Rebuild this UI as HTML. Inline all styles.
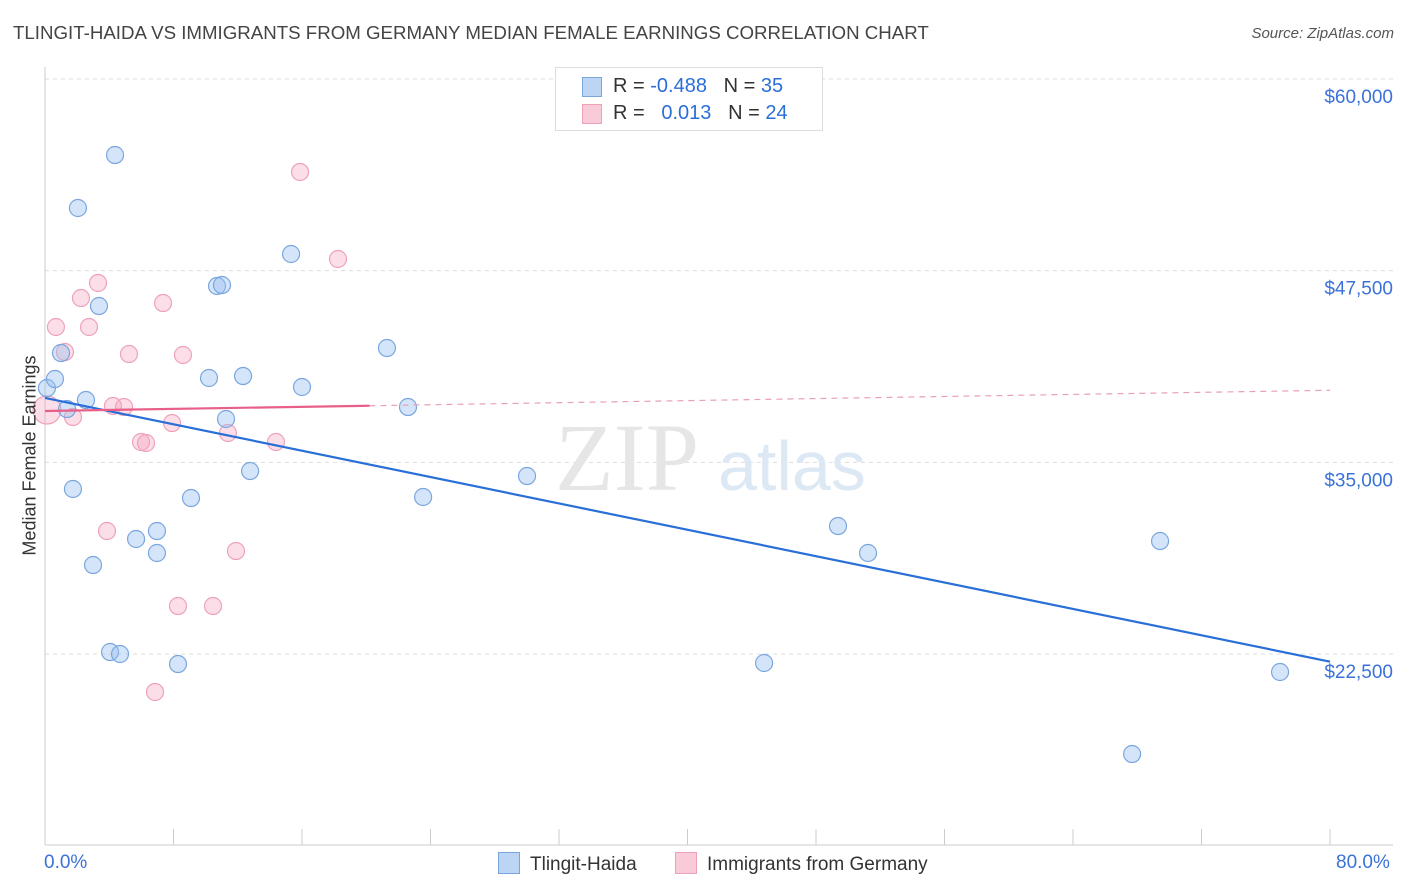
<!DOCTYPE html>
<html><head><meta charset="utf-8">
<style>
body{margin:0;background:#fff;font-family:"Liberation Sans",sans-serif;}
#wrap{position:relative;width:1406px;height:892px;overflow:hidden;}
.t{position:absolute;white-space:nowrap;}
</style></head>
<body>
<div id="wrap">
<div class="t" style="left:13px;top:22px;font-size:18.7px;color:#444;">TLINGIT-HAIDA VS IMMIGRANTS FROM GERMANY MEDIAN FEMALE EARNINGS CORRELATION CHART</div>
<div class="t" style="right:12px;top:25px;font-size:15px;color:#555;font-style:italic;">Source: ZipAtlas.com</div>
<svg id="chart" width="1406" height="892" style="position:absolute;left:0;top:0"></svg>
</div>
<script>
const blueX=[0.12,0.62,1.0,1.37,2.05,2.55,1.74,2.99,3.36,4.05,4.36,4.67,5.67,6.97,6.97,8.28,9.09,10.21,10.71,11.02,11.27,12.33,12.77,15.32,16.0,21.29,22.6,23.54,30.01,44.77,49.37,51.24,67.68,69.42,76.89];
const blueY=[39847,40434,42130,38478,51587,39065,33261,28304,45195,22630,55043,22500,30000,30521,29087,21846,32673,40500,46500,46565,37826,40630,34434,48587,39913,42456,38608,32739,34108,21913,30847,29087,15978,29869,21326];
const pinkX=[0.12,0.68,1.24,1.74,2.24,2.74,3.3,3.86,4.23,4.92,5.23,5.98,6.29,6.85,7.35,7.91,8.28,8.59,10.46,11.39,11.89,14.38,15.88,18.24];
const pinkY=[38413,43826,42195,37956,45717,43826,46696,30521,38674,38608,42065,36326,36261,20022,45391,37565,25630,42000,25630,36913,29217,36326,53935,48261];
const blueTrend=[39200,22000];
const pinkTrend=[38350,39700];
const yTicks=[60000,47500,35000,22500];
const yTickLabels=["$60,000","$47,500","$35,000","$22,500"];
const xTicks=[0,8,16,24,32,40,48,56,64,72,80];

const NS="http://www.w3.org/2000/svg";
const svg=document.getElementById('chart');
const X=v=>45+v/80*1285;
const Y=v=>79+(60000-v)/37500*575;
function mk(tag,attrs){const e=document.createElementNS(NS,tag);for(const k in attrs)e.setAttribute(k,attrs[k]);svg.appendChild(e);return e;}

yTicks.forEach((t,i)=>{
  const g=mk('line',{x1:45,x2:1393,y1:Y(t),y2:Y(t),stroke:'#ddd','stroke-dasharray':'4,4'});
  
  
  const tx=mk('text',{x:1393,y:Y(t)+24,'text-anchor':'end','font-size':19,fill:'#3a72d8','font-family':'Liberation Sans, sans-serif'});
  tx.textContent=yTickLabels[i];
  
  
});
const ax=mk('line',{x1:45,x2:1393,y1:845,y2:845,stroke:'#ccc'});


const ay=mk('line',{x1:45,x2:45,y1:67,y2:845,stroke:'#ccc'});


xTicks.forEach(t=>{
  const l=mk('line',{x1:X(t),x2:X(t),y1:829,y2:845,stroke:'#ccc'});
  
  
});
const wm=mk('text',{x:555,y:490,'font-size':96,fill:'#e6e6e6','font-family':'Liberation Serif, serif'});
wm.textContent='ZIP';


const wm2=mk('text',{x:718,y:490,'font-size':70,fill:'#dde8f5','font-family':'Liberation Sans, sans-serif'});
wm2.textContent='atlas';



pinkX.forEach((x,i)=>{
  const r=i===0?14:8.5;
  const c=mk('circle',{cx:X(x),cy:Y(pinkY[i]),r:r,fill:'rgba(244,160,185,0.35)',stroke:'#eea2b9','stroke-width':1.2});
  
  
});
blueX.forEach((x,i)=>{
  const c=mk('circle',{cx:X(x),cy:Y(blueY[i]),r:8.5,fill:'rgba(150,190,240,0.4)',stroke:'#7aa6de','stroke-width':1.2});
  
  
});
const bt=mk('line',{x1:X(0),y1:Y(blueTrend[0]),x2:X(80),y2:Y(blueTrend[1]),stroke:'#2a6fd8','stroke-width':2.2});


const pv=x=>pinkTrend[0]+(pinkTrend[1]-pinkTrend[0])*x/80;
const pt=mk('line',{x1:X(0),y1:Y(pv(0)),x2:X(20.2),y2:Y(pv(20.2)),stroke:'#e8608a','stroke-width':2.2});


const pd=mk('line',{x1:X(20.2),y1:Y(pv(20.2)),x2:X(80),y2:Y(pv(80)),stroke:'#e8a0b5','stroke-width':1.2,'stroke-dasharray':'6,5'});


</script>
<div class="t" style="left:-75px;top:445px;transform:rotate(-90deg);font-size:18px;color:#333;width:210px;text-align:center;">Median Female Earnings</div>
<div class="t" style="left:44px;top:852px;font-size:19px;color:#3a72d8;">0.0%</div>
<div class="t" style="left:1336px;top:852px;font-size:19px;color:#3a72d8;">80.0%</div>
<div style="position:absolute;left:555px;top:67px;width:266px;height:62px;border:1px solid #ddd;background:#fff;font-size:20px;color:#333;">
 <div style="position:absolute;left:26px;top:9px;width:18px;height:18px;background:#bcd5f5;border:1px solid #7aa6de;"></div>
 <div class="t" style="left:57px;top:7px;">R = <span style="color:#2a6fd8">-0.488</span>&nbsp;&nbsp;&nbsp;N = <span style="color:#2a6fd8">35</span></div>
 <div style="position:absolute;left:26px;top:36px;width:18px;height:18px;background:#f9cbd8;border:1px solid #eea2b9;"></div>
 <div class="t" style="left:57px;top:34px;">R = &nbsp;&nbsp;<span style="color:#2a6fd8">0.013</span>&nbsp;&nbsp;&nbsp;N = <span style="color:#2a6fd8">24</span></div>
</div>
<div style="position:absolute;left:498px;top:852px;font-size:19px;color:#333;">
 <div style="position:absolute;left:0;top:0;white-space:nowrap;"><span style="display:inline-block;width:20px;height:20px;background:#bcd5f5;border:1px solid #7aa6de;vertical-align:-4px;margin-right:10px;"></span>Tlingit-Haida</div>
 <div style="position:absolute;left:177px;top:0;white-space:nowrap;"><span style="display:inline-block;width:20px;height:20px;background:#f9cbd8;border:1px solid #eea2b9;vertical-align:-4px;margin-right:10px;"></span>Immigrants from Germany</div>
</div>
</body></html>
